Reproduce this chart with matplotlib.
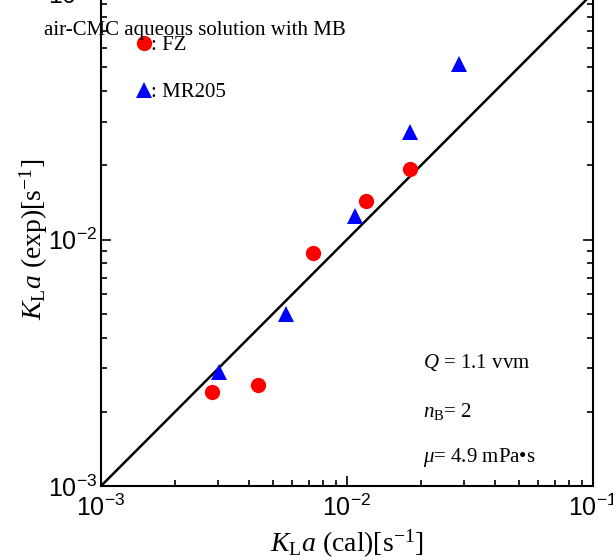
import numpy as np
import matplotlib.pyplot as plt

fz_cal = [2.83e-3, 4.34e-3, 7.27e-3, 1.19e-2, 1.80e-2]
fz_exp = [2.41e-3, 2.57e-3, 8.82e-3, 1.43e-2, 1.93e-2]
mr_cal = [3.02e-3, 5.65e-3, 1.08e-2, 1.80e-2, 2.85e-2]
mr_exp = [2.90e-3, 4.99e-3, 1.24e-2, 2.73e-2, 5.13e-2]
diag = [1e-3, 1e-1]

serif = 'Liberation Serif'
plt.rcParams['font.family'] = 'Liberation Sans'
plt.rcParams['mathtext.fontset'] = 'custom'
plt.rcParams['mathtext.rm'] = 'Liberation Serif'
plt.rcParams['mathtext.it'] = 'Liberation Serif:italic'
plt.rcParams['mathtext.bf'] = 'Liberation Serif:bold'

fig = plt.figure(figsize=(6.13, 5.60), dpi=100)
ax = fig.add_axes([101 / 613, 74 / 560, 492 / 613, 493 / 560])

ax.plot(diag, diag, color='black', lw=1.8, zorder=2)
ax.plot(fz_cal, fz_exp, 'o', color='red', markersize=11, markeredgewidth=0, zorder=3)
ax.plot(mr_cal, mr_exp, '^', color='blue', markersize=12, markeredgewidth=0, zorder=3)

ax.set_xscale('log')
ax.set_yscale('log')
ax.set_xlim(1e-3, 1e-1)
ax.set_ylim(1e-3, 1e-1)

ax.spines['top'].set_visible(False)
for s in ['left', 'right', 'bottom']:
    ax.spines[s].set_linewidth(1.5)
ax.tick_params(which='both', direction='in', left=True, right=True, top=False,
               labelsize=18, width=1.2)
ax.tick_params(which='major', length=7)
ax.tick_params(which='minor', length=4)
ax.tick_params(axis='x', pad=6)
ax.tick_params(axis='y', pad=3)

ax.set_xlabel(r'$K_{\rm L}a$ (cal)[s$^{-1}$]', fontsize=20, family=serif, labelpad=5)
ax.set_ylabel(r'$K_{\rm L}a$ (exp)[s$^{-1}$]', fontsize=20, family=serif, labelpad=-2)

# legend drawn by hand
ax.plot([1.50e-3], [6.27e-2], 'o', color='red', markersize=11, markeredgewidth=0, clip_on=False)
ax.plot([1.50e-3], [4.04e-2], '^', color='blue', markersize=12, markeredgewidth=0, clip_on=False)
ax.text(1.59e-3, 6.1e-2, ': FZ', fontsize=15, family=serif, va='center')
ax.text(1.59e-3, 3.95e-2, ': MR205', fontsize=15, family=serif, va='center')
fig.text(44 / 613, 1 - 30 / 560, 'air-CMC aqueous solution with MB', fontsize=15,
         family=serif, va='center')

ax.text(0.655, 0.25, r'$Q$ = 1.1 vvm', transform=ax.transAxes, fontsize=15, family=serif, va='center')
ax.text(0.655, 0.152, r'$n$$_{\rm B}$= 2', transform=ax.transAxes, fontsize=15, family=serif, va='center')
ax.text(0.655, 0.057, r'$\mu$= 4.9 mPa•s', transform=ax.transAxes, fontsize=15, family=serif, va='center')

fig.savefig('out.png', dpi=100)
